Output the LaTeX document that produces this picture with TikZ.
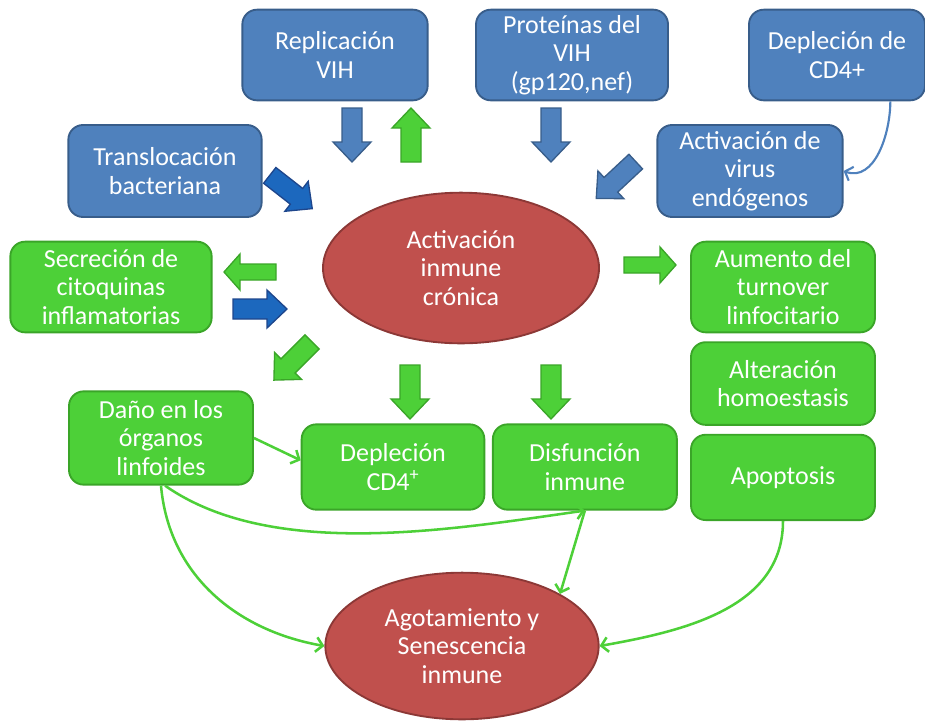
\documentclass[tikz,border=0pt]{standalone}
\usepackage{fontspec}
\setmainfont{Carlito}
\usetikzlibrary{arrows.meta,shapes.geometric,positioning}

\definecolor{boxblue}{RGB}{79,129,189}
\definecolor{lineblue}{RGB}{56,93,138}
\definecolor{darkblue}{RGB}{28,104,190}
\definecolor{linedark}{RGB}{30,70,140}
\definecolor{boxgreen}{RGB}{77,208,56}
\definecolor{linegreen}{RGB}{58,165,40}
\definecolor{ellred}{RGB}{192,80,77}
\definecolor{linered}{RGB}{140,56,54}

\tikzset{
  barrow/.pic={\draw[pic actions] (-27,-10) -- (7,-10) -- (7,-19) -- (27,0) -- (7,19) -- (7,10) -- (-27,10) -- cycle;},
  slimarrow/.pic={\draw[pic actions] (-26,-8) -- (10,-8) -- (10,-18) -- (26,0) -- (10,18) -- (10,8) -- (-26,8) -- cycle;}
}

\begin{document}
\begin{tikzpicture}[x=0.75pt,y=-0.75pt,node distance=6pt,
    font=\fontsize{19.5}{21.5}\selectfont,text=white,
    blu/.style={rectangle,rounded corners=11pt,draw=lineblue,fill=boxblue,line width=1.4pt,align=center,inner sep=2pt},
    grn/.style={rectangle,rounded corners=11pt,draw=linegreen,fill=boxgreen,line width=1.4pt,align=center,inner sep=2pt},
    ell/.style={ellipse,draw=linered,fill=ellred,line width=1.4pt,align=center,inner sep=0pt},
    barblue/.style={fill=boxblue,draw=lineblue,line width=1pt},
    bardark/.style={fill=darkblue,draw=linedark,line width=1pt},
    bargreen/.style={fill=boxgreen,draw=linegreen,line width=1pt},
    link/.style={draw=boxgreen,line width=1.9pt,-{Straight Barb[length=5pt,width=11pt]}},
    bluelink/.style={draw=boxblue,line width=1.6pt,-{Straight Barb[length=5pt,width=11pt]}}]

  \useasboundingbox (0,0) rectangle (925,722);

  % upper row
  \node[blu,minimum width=139pt,minimum height=68pt] (RV) at (335,55) {Replicación\\VIH};
  \node[blu,minimum width=144pt,minimum height=68pt] (PV) at (572,55) {Proteínas del\\VIH\\(gp120,nef)};
  \node[blu,minimum width=132pt,minimum height=68pt] (DC) at (837,55) {Depleción de\\CD4+};
  \node[blu,minimum width=145pt,minimum height=69pt] (TB) at (165,171) {Translocación\\bacteriana};
  \node[blu,minimum width=139pt,minimum height=69pt] (AV) at (750,171) {Activación de\\virus\\endógenos};

  % centre
  \node[ell,minimum width=207pt,minimum height=113pt] (AIC) at (461,268) {Activación\\inmune\\crónica};
  \node[grn,minimum width=151pt,minimum height=68pt] (SC) at (111,287) {Secreción de\\citoquinas\\inflamatorias};
  \node[grn,minimum width=138pt,minimum height=68pt] (AT) at (783,287) {Aumento del\\turnover\\linfocitario};
  \node[grn,minimum width=138pt,minimum height=62pt,below=6pt of AT] (AH) {Alteración\\homoestasis};
  \node[grn,minimum width=138pt,minimum height=64pt,below=6pt of AH] (AP) {Apoptosis};

  % lower row
  \node[grn,minimum width=138pt,minimum height=70pt] (DO) at (161,438) {Daño en los\\órganos\\linfoides};
  \node[grn,minimum width=137pt,minimum height=64pt] (D4) at (393,467) {Depleción\\CD4\textsuperscript{+}};
  \node[grn,minimum width=138pt,minimum height=64pt,right=5pt of D4] (DI) {Disfunción\\inmune};
  \node[ell,minimum width=205pt,minimum height=110pt] (AS) at (462,646) {Agotamiento y\\Senescencia\\inmune};

  % block arrows
  \pic[barblue,rotate=-90] (b1) at (352,135) {barrow};
  \pic[bargreen,rotate=90] (b2) at (411,135) {barrow};
  \pic[barblue,rotate=-90] (b3) at (551,135) {barrow};
  \pic[bardark,rotate=-38] (b4) at (291,192) {barrow};
  \pic[barblue,rotate=-137] (b5) at (616,180) {barrow};
  \pic[bargreen,rotate=180] (b6) at (250,272) {slimarrow};
  \pic[bardark] (b7) at (260,309) {barrow};
  \pic[bargreen,rotate=-135] (b8) at (293,361) {barrow};
  \pic[bargreen] (b9) at (650,265) {slimarrow};
  \pic[bargreen,rotate=-90] (b10) at (410,392) {barrow};
  \pic[bargreen,rotate=-90] (b11) at (551,392) {barrow};

  % thin connectors
  \draw[bluelink] ([xshift=40pt]DC.south) to[out=-90,in=-20] (AV.east);
  \draw[link] (DO.east) -- ([yshift=5pt]D4.west);
  \draw[link] (DO.south) to[out=-85,in=170] (AS.west);
  \draw[link] ([xshift=3pt]DO.south) to[out=-35,in=188,looseness=0.8] (DI.south);
  \draw[link] (DI.south) -- (AS.28);
  \draw[link] (AP.south) to[out=-90,in=10] (AS.east);
\end{tikzpicture}
\end{document}
